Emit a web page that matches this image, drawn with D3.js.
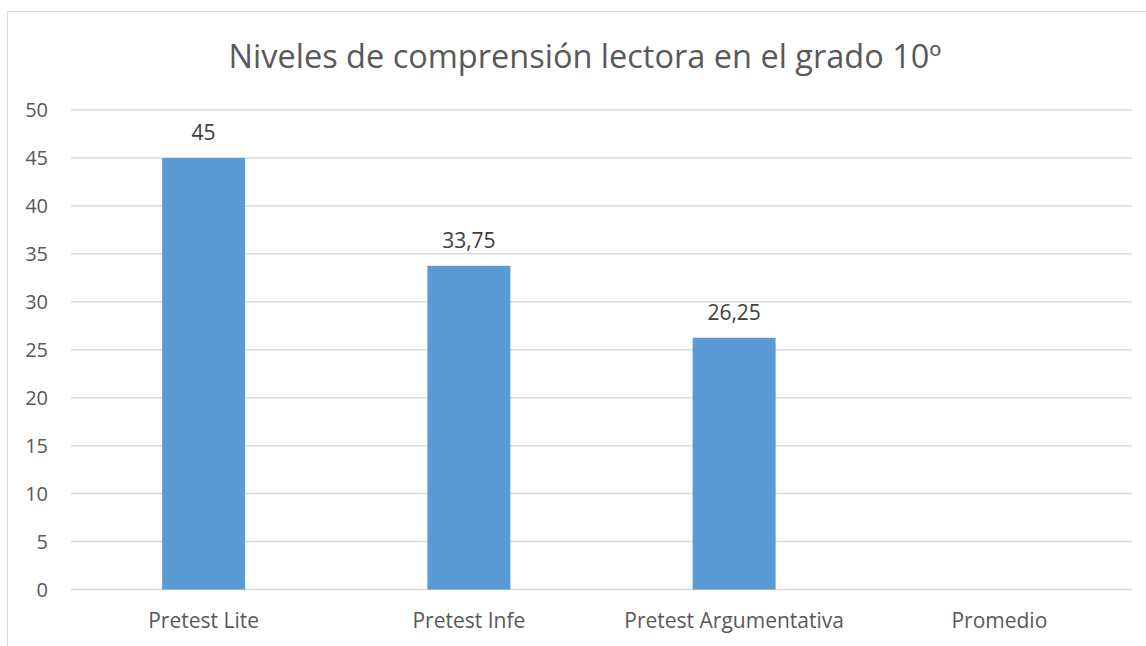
<!DOCTYPE html>
<html><head><meta charset="utf-8">
<script src="https://cdn.jsdelivr.net/npm/d3@7"></script>
<style>body{margin:0;background:#fff;}svg{display:block;font-family:"Open Sans",sans-serif;}</style>
</head><body>
<script>
const categories = ["Pretest Lite", "Pretest Infe", "Pretest Argumentativa", "Promedio"];
const values = [45, 33.75, 26.25, null];
const valueLabels = ["45", "33,75", "26,25", ""];
const yTicks = [0, 5, 10, 15, 20, 25, 30, 35, 40, 45, 50];
const title = "Niveles de comprensión lectora en el grado 10º";

(function () {
const W = 1146, H = 646;
const svg = d3.select("body").append("svg").attr("width", W).attr("height", H);
svg.append("rect").attr("width", W).attr("height", H).attr("fill", "#fff");
// chart border
svg.append("rect").attr("x", 7.5).attr("y", 11.5).attr("width", 1160).attr("height", 700)
  .attr("fill", "none").attr("stroke", "#d9d9d9").attr("stroke-width", 1);

const pLeft = 71, pRight = 1132, pTop = 110, pBottom = 589.5;
const x = d3.scaleBand().domain(categories).range([pLeft, pRight]).padding(0);
const y = d3.scaleLinear().domain([0, 50]).range([pBottom, pTop]);

svg.append("text").attr("x", 585).attr("y", 68).attr("text-anchor", "middle")
  .attr("font-size", 32.5).attr("fill", "#595959").text(title);

// gridlines
svg.append("g").selectAll("line").data(yTicks).join("line")
  .attr("x1", pLeft).attr("x2", pRight)
  .attr("y1", d => y(d)).attr("y2", d => y(d))
  .attr("stroke", "#d9d9d9").attr("stroke-width", 1.5);

// y tick labels
svg.append("g").selectAll("text").data(yTicks).join("text")
  .attr("x", 48).attr("y", d => y(d)).attr("dy", "0.35em")
  .attr("text-anchor", "end").attr("font-size", 20).attr("fill", "#595959")
  .text(d => d);

const bw = 83;
const data = categories.map((c, i) => ({c, v: values[i], label: valueLabels[i]}));
svg.append("g").selectAll("rect").data(data.filter(d => d.v != null)).join("rect")
  .attr("x", d => x(d.c) + x.bandwidth() / 2 - bw / 2)
  .attr("width", bw)
  .attr("y", d => y(d.v))
  .attr("height", d => y(0) - y(d.v))
  .attr("fill", "#5b9bd5");

svg.append("g").selectAll("text").data(data.filter(d => d.v != null)).join("text")
  .attr("x", d => x(d.c) + x.bandwidth() / 2)
  .attr("y", d => y(d.v) - 18)
  .attr("text-anchor", "middle").attr("font-size", 21).attr("fill", "#404040")
  .text(d => d.label);

svg.append("g").selectAll("text").data(categories).join("text")
  .attr("x", d => x(d) + x.bandwidth() / 2)
  .attr("y", 628)
  .attr("text-anchor", "middle").attr("font-size", 21).attr("fill", "#595959")
  .text(d => d);
})();
</script>
</body></html>
